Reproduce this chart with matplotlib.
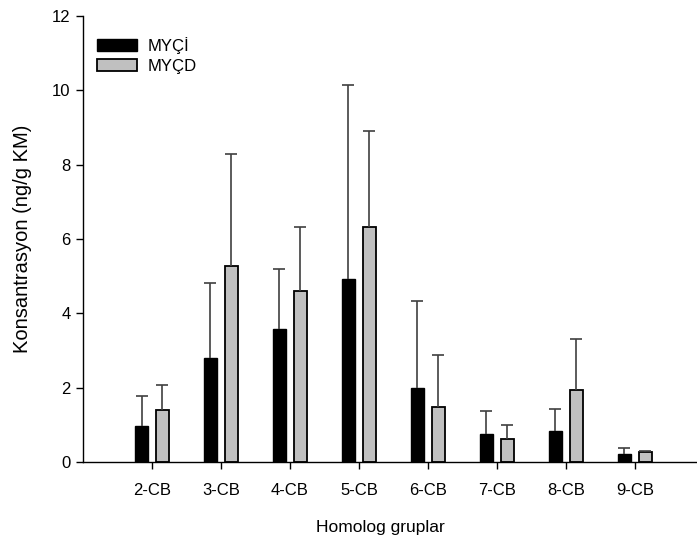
import numpy as np
import matplotlib
matplotlib.use("Agg")
import matplotlib.pyplot as plt

# -----------------------------
# Data
# -----------------------------
groups = ["2-CB", "3-CB", "4-CB", "5-CB", "6-CB", "7-CB", "8-CB", "9-CB"]
myci_mean = [0.98, 2.81, 3.58, 4.93, 1.98, 0.76, 0.83, 0.22]
myci_err = [0.80, 2.01, 1.61, 5.21, 2.35, 0.62, 0.59, 0.16]
mycd_mean = [1.41, 5.27, 4.59, 6.33, 1.47, 0.62, 1.93, 0.26]
mycd_err = [0.65, 3.02, 1.74, 2.57, 1.40, 0.38, 1.39, 0.04]

# -----------------------------
# Plot
# -----------------------------
plt.rcParams['font.family'] = ['Liberation Sans', 'DejaVu Sans']

fig = plt.figure(figsize=(6.97, 5.43), dpi=100)
ax = fig.add_axes([83 / 697, 81 / 543, 614 / 697, 446 / 543])

x = np.arange(1, len(groups) + 1)
w = 0.19
off = 0.152

err_kw = dict(ecolor='#404040', elinewidth=1.2, capsize=4.5, capthick=1.2)
b1 = ax.bar(x - off, myci_mean, w, color='black', edgecolor='black', linewidth=1,
            yerr=[np.zeros(len(groups)), myci_err], error_kw=err_kw, label='MYÇİ')
b2 = ax.bar(x + off, mycd_mean, w, color='#c0c0c0', edgecolor='black', linewidth=1.3,
            yerr=[np.zeros(len(groups)), mycd_err], error_kw=err_kw, label='MYÇD')

# only the upper caps are drawn
for b in (b1, b2):
    caps = b.errorbar.lines[1]
    caps[0].set_visible(False)

ax.set_xlim(0, 8.9)
ax.set_ylim(0, 12)
ax.set_xticks(x)
ax.set_xticklabels(groups)
ax.set_yticks(range(0, 13, 2))
ax.tick_params(axis='both', direction='out', length=5, width=1, labelsize=12)
ax.tick_params(axis='y', pad=4)
ax.tick_params(axis='x', pad=10)

for s in ['top', 'right']:
    ax.spines[s].set_visible(False)
for s in ['left', 'bottom']:
    ax.spines[s].set_linewidth(1)

ax.set_xlabel("Homolog gruplar", fontsize=12.5)
ax.set_ylabel("Konsantrasyon (ng/g KM)", fontsize=14.5)
ax.xaxis.set_label_coords(0.485, -0.13)
ax.yaxis.set_label_coords(-0.083, 0.5)

ax.legend(loc='upper left', bbox_to_anchor=(0.0, 0.985), frameon=False,
          fontsize=12, handlelength=2.4, handleheight=0.72,
          handletextpad=0.6, labelspacing=0.32, borderaxespad=0.45)

plt.savefig("out.png", dpi=100)
